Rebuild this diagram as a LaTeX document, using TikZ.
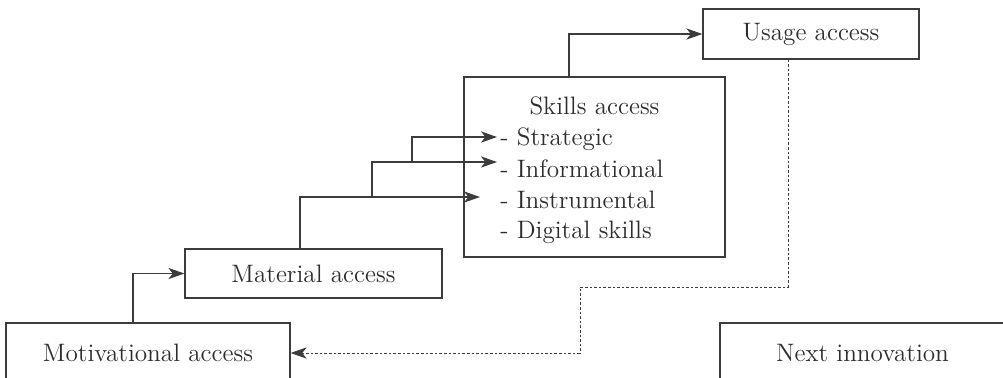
\documentclass[tikz,border=0pt]{standalone}
\usepackage{tikz}
\usetikzlibrary{arrows.meta,positioning}
\usepackage{xcolor}
\definecolor{LineGrey}{RGB}{60,60,60}
\definecolor{TextGrey}{RGB}{45,45,45}
\newcommand{\diagfont}{\fontsize{12.6pt}{14pt}\selectfont}
\tikzset{
  accessbox/.style={draw=LineGrey, line width=0.6pt, fill=white,
    font=\diagfont, text=TextGrey, inner sep=0pt},
  skillitem/.style={font=\diagfont, text=TextGrey, inner sep=0pt},
  arrow/.style={-{Stealth[length=8pt,width=5.6pt,inset=2.2pt]}, line width=0.55pt, LineGrey},
  backarrow/.style={arrow, line width=0.5pt, dash pattern=on 1.3pt off 1pt}
}

\begin{document}
\begin{tikzpicture}[x=0.5pt, y=-0.5pt]
  \useasboundingbox (0,0) rectangle (1003,377);
  \clip (0,0) rectangle (1003,377);
  \node[accessbox, minimum width=142pt, minimum height=30pt] (motiv) at (148,353) {Motivational access};
  \node[accessbox, minimum width=128.5pt, minimum height=24.5pt] (material) at (313.5,273.5) {Material access};
  \node[accessbox, minimum width=130.5pt, minimum height=90pt] (skills) at (594.5,167) {};
  \node[accessbox, minimum width=108pt, minimum height=25pt] (usage) at (811,34) {Usage access};
  \node[accessbox, minimum width=142.5pt, minimum height=30pt] (next) at (862.5,353) {Next innovation};
  \node[skillitem, anchor=base] (skilltitle) at (594.5,114) {Skills access};
  \node[skillitem, anchor=base west] (strat) at (500,145) {- Strategic};
  \node[skillitem, anchor=base west] (info) at (500,177) {- Informational};
  \node[skillitem, anchor=base west] (instr) at (500,208) {- Instrumental};
  \node[skillitem, anchor=base west] (digital) at (500,238) {- Digital skills};
  \coordinate (fork1) at (372,197);
  \coordinate (fork2) at (412,162);
  \coordinate (turn) at (580,287);
  \draw[arrow] ([xshift=-7.5pt]motiv.north) |- (material.west);
  \draw[arrow] ([xshift=-6.75pt]material.north) |- ([xshift=-10pt,yshift=5.5pt]instr.base west);
  \draw[arrow] (fork1) |- ([xshift=-1.5pt,yshift=7.5pt]info.base west);
  \draw[arrow] (fork2) |- ([xshift=-1.5pt,yshift=4pt]strat.base west);
  \draw[arrow] ([xshift=-12.75pt]skills.north) |- (usage.west);
  \draw[backarrow] ([xshift=-11.5pt]usage.south) |- (turn) |- (motiv.east);
\end{tikzpicture}
\end{document}
